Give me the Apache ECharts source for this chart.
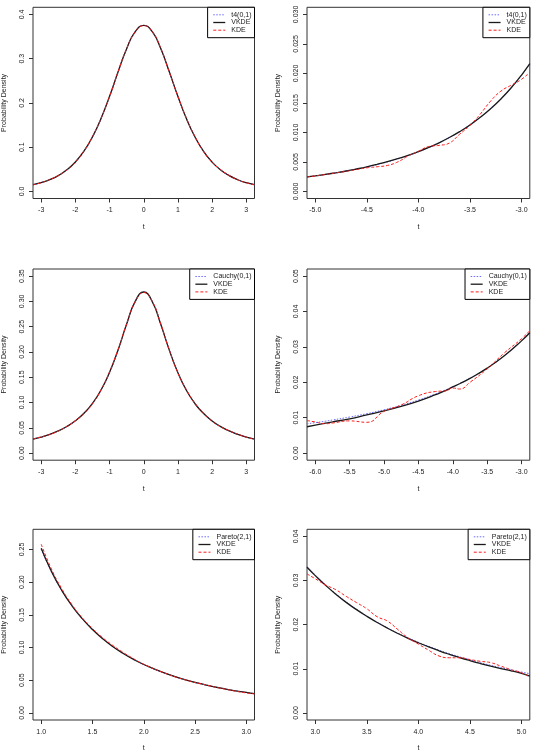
<!DOCTYPE html>
<html lang="en">
<head>
    <meta charset="UTF-8">
    <title>VKDE vs KDE</title>
    <script src="https://cdn.jsdelivr.net/npm/echarts@6/dist/echarts.min.js"></script>
    <style>
        body { margin: 0; background: #fff; }
    </style>
</head>
<body>
<div id="main" style="width: 534px;height: 753px;"></div>

<script type="text/javascript">
    // panel 1: t4(0,1), centre
    var xT4 = [-3.24, -3, -2.75, -2.5, -2.25, -2, -1.75, -1.5, -1.25, -1, -0.75, -0.5, -0.25, 0,
        0.25, 0.5, 0.75, 1, 1.25, 1.5, 1.75, 2, 2.25, 2.5, 2.75, 3, 3.24];
    var t4True = [0.0150, 0.0197, 0.0264, 0.0357, 0.0485, 0.0663, 0.0905, 0.1229, 0.1644, 0.2147, 0.2699, 0.3223, 0.3607, 0.3750,
        0.3607, 0.3223, 0.2699, 0.2147, 0.1644, 0.1229, 0.0905, 0.0663, 0.0485, 0.0357, 0.0264, 0.0197, 0.0150];
    var t4Vkde = [0.0152, 0.0198, 0.0265, 0.0358, 0.0487, 0.0665, 0.0908, 0.1232, 0.1648, 0.2150, 0.2703, 0.3226, 0.3610, 0.3752,
        0.3608, 0.3222, 0.2697, 0.2145, 0.1642, 0.1228, 0.0904, 0.0662, 0.0484, 0.0356, 0.0264, 0.0197, 0.0151];
    var t4Kde = [0.0148, 0.0196, 0.0268, 0.0360, 0.0482, 0.0660, 0.0910, 0.1240, 0.1650, 0.2140, 0.2705, 0.3230, 0.3600, 0.3745,
        0.3612, 0.3230, 0.2690, 0.2150, 0.1650, 0.1235, 0.0900, 0.0660, 0.0490, 0.0362, 0.0262, 0.0195, 0.0149];

    // panel 2: t4(0,1), left tail
    var xT4Tail = [-5.08, -5.0, -4.9, -4.8, -4.7, -4.6, -4.5, -4.4, -4.3, -4.2, -4.1, -4.0, -3.9, -3.8, -3.7,
        -3.6, -3.5, -3.4, -3.3, -3.2, -3.1, -3.0, -2.92];
    var t4TailTrue = [0.00247, 0.00265, 0.00289, 0.00316, 0.00345, 0.00378, 0.00414, 0.00455, 0.00500, 0.00551, 0.00608, 0.00671,
        0.00742, 0.00822, 0.00912, 0.01013, 0.01127, 0.01257, 0.01403, 0.01568, 0.01756, 0.01970, 0.02160];
    var t4TailVkde = [0.00245, 0.00264, 0.00288, 0.00316, 0.00346, 0.00380, 0.00417, 0.00459, 0.00505, 0.00556, 0.00612, 0.00675,
        0.00745, 0.00824, 0.00913, 0.01013, 0.01126, 0.01255, 0.01401, 0.01567, 0.01756, 0.01972, 0.02165];
    var t4TailKde = [0.00244, 0.00262, 0.00287, 0.00314, 0.00340, 0.00370, 0.00400, 0.00418, 0.00440, 0.00500, 0.00600, 0.00680,
        0.00760, 0.00780, 0.00820, 0.00970, 0.01120, 0.01310, 0.01530, 0.01700, 0.01800, 0.01900, 0.02020];

    // panel 3: Cauchy(0,1), centre
    var xCau = [-3.24, -3, -2.75, -2.5, -2.25, -2, -1.75, -1.5, -1.25, -1, -0.75, -0.5, -0.25, 0,
        0.25, 0.5, 0.75, 1, 1.25, 1.5, 1.75, 2, 2.25, 2.5, 2.75, 3, 3.24];
    var cauTrue = [0.0277, 0.0318, 0.0372, 0.0439, 0.0525, 0.0637, 0.0784, 0.0979, 0.1242, 0.1592, 0.2037, 0.2546, 0.2996, 0.3183,
        0.2996, 0.2546, 0.2037, 0.1592, 0.1242, 0.0979, 0.0784, 0.0637, 0.0525, 0.0439, 0.0372, 0.0318, 0.0277];
    var cauVkde = [0.0276, 0.0317, 0.0371, 0.0439, 0.0526, 0.0639, 0.0787, 0.0983, 0.1247, 0.1598, 0.2044, 0.2552, 0.3000, 0.3185,
        0.2993, 0.2541, 0.2031, 0.1587, 0.1238, 0.0976, 0.0782, 0.0636, 0.0524, 0.0438, 0.0371, 0.0317, 0.0276];
    var cauKde = [0.0279, 0.0320, 0.0368, 0.0436, 0.0528, 0.0642, 0.0780, 0.0975, 0.1250, 0.1605, 0.2050, 0.2555, 0.2990, 0.3175,
        0.3000, 0.2550, 0.2030, 0.1585, 0.1250, 0.0985, 0.0790, 0.0630, 0.0520, 0.0442, 0.0375, 0.0316, 0.0275];

    // panel 4: Cauchy(0,1), left tail
    var xCauTail = [-6.12, -6.0, -5.85, -5.75, -5.5, -5.25, -5.0, -4.75, -4.5, -4.25, -4.1, -4.0, -3.9, -3.75, -3.5,
        -3.25, -3.0, -2.88];
    var cauTailTrue = [0.00828, 0.00860, 0.00903, 0.00935, 0.01019, 0.01114, 0.01224, 0.01351, 0.01498, 0.01670, 0.01788, 0.01872,
        0.01963, 0.02113, 0.02402, 0.02753, 0.03183, 0.03425];
    var cauTailVkde = [0.00745, 0.00790, 0.00845, 0.00880, 0.00970, 0.01080, 0.01190, 0.01320, 0.01470, 0.01650, 0.01770, 0.01870,
        0.01960, 0.02110, 0.02400, 0.02750, 0.03170, 0.03400];
    var cauTailKde = [0.00920, 0.00880, 0.00830, 0.00850, 0.00910, 0.00870, 0.01180, 0.01360, 0.01620, 0.01740, 0.01760, 0.01840,
        0.01810, 0.02000, 0.02380, 0.02830, 0.03230, 0.03460];

    // panel 5: Pareto(2,1), body
    var xPar = [1.0, 1.1, 1.2, 1.3, 1.4, 1.5, 1.6, 1.7, 1.8, 1.9, 2.0, 2.2, 2.4, 2.6, 2.8, 3.0, 3.08];
    var parTrue = [0.2500, 0.2160, 0.1878, 0.1644, 0.1447, 0.1280, 0.1138, 0.1016, 0.0911, 0.0820, 0.0741, 0.0610, 0.0509, 0.0429,
        0.0364, 0.0313, 0.0295];
    var parVkde = [0.2520, 0.2165, 0.1875, 0.1638, 0.1441, 0.1275, 0.1134, 0.1013, 0.0909, 0.0819, 0.0741, 0.0611, 0.0510, 0.0430,
        0.0365, 0.0313, 0.0294];
    var parKde = [0.2580, 0.2200, 0.1900, 0.1655, 0.1455, 0.1290, 0.1150, 0.1030, 0.0925, 0.0830, 0.0745, 0.0612, 0.0508, 0.0430,
        0.0362, 0.0305, 0.0292];

    // panel 6: Pareto(2,1), right tail
    var xParTail = [2.92, 3.0, 3.1, 3.2, 3.3, 3.4, 3.5, 3.6, 3.7, 3.8, 3.9, 4.0, 4.1, 4.2, 4.3, 4.4, 4.5, 4.6, 4.7, 4.8,
        4.9, 5.0, 5.08];
    var parTailTrue = [0.03320, 0.03125, 0.02902, 0.02700, 0.02515, 0.02348, 0.02195, 0.02055, 0.01927, 0.01808, 0.01700, 0.01600,
        0.01508, 0.01422, 0.01343, 0.01270, 0.01202, 0.01138, 0.01079, 0.01024, 0.00972, 0.00926, 0.00890];
    var parTailVkde = [0.03300, 0.03110, 0.02890, 0.02690, 0.02505, 0.02340, 0.02190, 0.02050, 0.01920, 0.01800, 0.01690, 0.01590,
        0.01495, 0.01408, 0.01328, 0.01254, 0.01185, 0.01120, 0.01060, 0.01005, 0.00955, 0.00895, 0.00835];
    var parTailKde = [0.03150, 0.03040, 0.02900, 0.02790, 0.02640, 0.02500, 0.02360, 0.02180, 0.02080, 0.01890, 0.01700, 0.01560,
        0.01420, 0.01290, 0.01250, 0.01250, 0.01210, 0.01170, 0.01140, 0.01060, 0.00980, 0.00910, 0.00810];

    // tick labels
    var xTicksCentre = [-3, -2, -1, 0, 1, 2, 3];
    var xTicksT4Tail = [-5.0, -4.5, -4.0, -3.5, -3.0];
    var xTicksCauTail = [-6.0, -5.5, -5.0, -4.5, -4.0, -3.5, -3.0];
    var xTicksPar = [1.0, 1.5, 2.0, 2.5, 3.0];
    var xTicksParTail = [3.0, 3.5, 4.0, 4.5, 5.0];
    var yTicksT4 = [0, 0.1, 0.2, 0.3, 0.4];
    var yTicksT4Tail = [0, 0.005, 0.01, 0.015, 0.02, 0.025, 0.03];
    var yTicksCau = [0, 0.05, 0.1, 0.15, 0.2, 0.25, 0.3, 0.35];
    var yTicksCauTail = [0, 0.01, 0.02, 0.03, 0.04, 0.05];
    var yTicksPar = [0, 0.05, 0.1, 0.15, 0.2, 0.25];
    var yTicksParTail = [0, 0.01, 0.02, 0.03, 0.04];

    var myChart = echarts.init(document.getElementById('main'));

    var FONT = 'Liberation Sans, Arial, sans-serif';
    var TXT = '#222';
    var BLUE = '#6b6bff', BLACK = '#1a1a1a', RED = '#ff1a1a';

    // panel boxes in pixels
    var colLeft = [31.7, 307];
    var rowTop = [7.3, 269, 529.3];
    var boxW = 222.8, boxH = 191.2;

    var panels = [
        {x: xT4, tr: t4True, vk: t4Vkde, kd: t4Kde, name: 't4(0,1)', xr: [-3.24, 3.24], yr: [-0.016, 0.416],
            xt: xTicksCentre, xd: 0, yt: yTicksT4, yd: 1},
        {x: xT4Tail, tr: t4TailTrue, vk: t4TailVkde, kd: t4TailKde, name: 't4(0,1)', xr: [-5.08, -2.92], yr: [-0.0012, 0.0312],
            xt: xTicksT4Tail, xd: 1, yt: yTicksT4Tail, yd: 3},
        {x: xCau, tr: cauTrue, vk: cauVkde, kd: cauKde, name: 'Cauchy(0,1)', xr: [-3.24, 3.24], yr: [-0.014, 0.364],
            xt: xTicksCentre, xd: 0, yt: yTicksCau, yd: 2},
        {x: xCauTail, tr: cauTailTrue, vk: cauTailVkde, kd: cauTailKde, name: 'Cauchy(0,1)', xr: [-6.12, -2.88], yr: [-0.002, 0.052],
            xt: xTicksCauTail, xd: 1, yt: yTicksCauTail, yd: 2},
        {x: xPar, tr: parTrue, vk: parVkde, kd: parKde, name: 'Pareto(2,1)', xr: [0.92, 3.08], yr: [-0.0108, 0.2808],
            xt: xTicksPar, xd: 1, yt: yTicksPar, yd: 2},
        {x: xParTail, tr: parTailTrue, vk: parTailVkde, kd: parTailKde, name: 'Pareto(2,1)', xr: [2.92, 5.08], yr: [-0.0016, 0.0416],
            xt: xTicksParTail, xd: 1, yt: yTicksParTail, yd: 2}
    ];

    function pairs(xs, ys) {
        return xs.map(function (x, i) { return [x, ys[i]]; });
    }

    function fmt(d) {
        return function (v) { return v.toFixed(d); };
    }

    var grids = [], xAxes = [], yAxes = [], series = [], legends = [];

    panels.forEach(function (p, i) {
        var col = i % 2, row = Math.floor(i / 2);
        grids.push({
            left: colLeft[col], top: rowTop[row], width: boxW, height: boxH,
            show: true, borderColor: '#333', borderWidth: 1, backgroundColor: 'transparent'
        });
        xAxes.push({
            type: 'value', gridIndex: i, min: p.xr[0], max: p.xr[1], position: 'bottom',
            name: 't', nameLocation: 'middle', nameGap: 25,
            nameTextStyle: {fontFamily: FONT, fontSize: 7, color: TXT},
            axisLine: {show: false, onZero: false},
            splitLine: {show: false},
            axisTick: {show: true, customValues: p.xt, length: 4, lineStyle: {color: '#333'}},
            axisLabel: {customValues: p.xt, fontFamily: FONT, fontSize: 7, color: TXT, margin: 8.5, formatter: fmt(p.xd)}
        });
        yAxes.push({
            type: 'value', gridIndex: i, min: p.yr[0], max: p.yr[1], position: 'left',
            name: 'Probability Density', nameLocation: 'middle', nameGap: 25,
            nameTextStyle: {fontFamily: FONT, fontSize: 7, color: TXT},
            axisLine: {show: false, onZero: false},
            splitLine: {show: false},
            axisTick: {show: true, customValues: p.yt, length: 4, lineStyle: {color: '#333'}},
            axisLabel: {customValues: p.yt, rotate: 90, fontFamily: FONT, fontSize: 7, color: TXT, margin: 7.5, formatter: fmt(p.yd)}
        });
        series.push({
            name: p.name, type: 'line', xAxisIndex: i, yAxisIndex: i, smooth: true, symbol: 'none',
            lineStyle: {color: BLUE, width: 1, type: [1.5, 1.5]}, itemStyle: {color: BLUE},
            data: pairs(p.x, p.tr)
        });
        series.push({
            name: 'VKDE', type: 'line', xAxisIndex: i, yAxisIndex: i, smooth: true, symbol: 'none',
            lineStyle: {color: BLACK, width: 1.3}, itemStyle: {color: BLACK},
            data: pairs(p.x, p.vk)
        });
        series.push({
            name: 'KDE', type: 'line', xAxisIndex: i, yAxisIndex: i, smooth: true, symbol: 'none',
            lineStyle: {color: RED, width: 1, type: [3, 2]}, itemStyle: {color: RED},
            data: pairs(p.x, p.kd)
        });
        legends.push({
            data: [
                {name: p.name, lineStyle: {width: 1, type: [1.5, 1.5], color: BLUE}},
                {name: 'VKDE', lineStyle: {width: 1.3, color: BLACK}},
                {name: 'KDE', lineStyle: {width: 1, type: [3, 2], color: RED}}
            ],
            orient: 'vertical', align: 'left',
            right: 534 - (colLeft[col] + boxW), top: rowTop[row],
            backgroundColor: '#fff', borderColor: '#000', borderWidth: 1, borderRadius: 0,
            padding: [4, 3, 4, 5],
            itemWidth: 12, itemHeight: 7, itemGap: 0.7,
            itemStyle: {opacity: 0},
            selectedMode: false,
            textStyle: {fontFamily: FONT, fontSize: 7, color: TXT, lineHeight: 7, padding: [0, 0, 0, 1]}
        });
    });

    var option = {
        animation: false,
        backgroundColor: '#fff',
        grid: grids,
        xAxis: xAxes,
        yAxis: yAxes,
        legend: legends,
        series: series
    };

    myChart.setOption(option);
</script>
</body>
</html>
